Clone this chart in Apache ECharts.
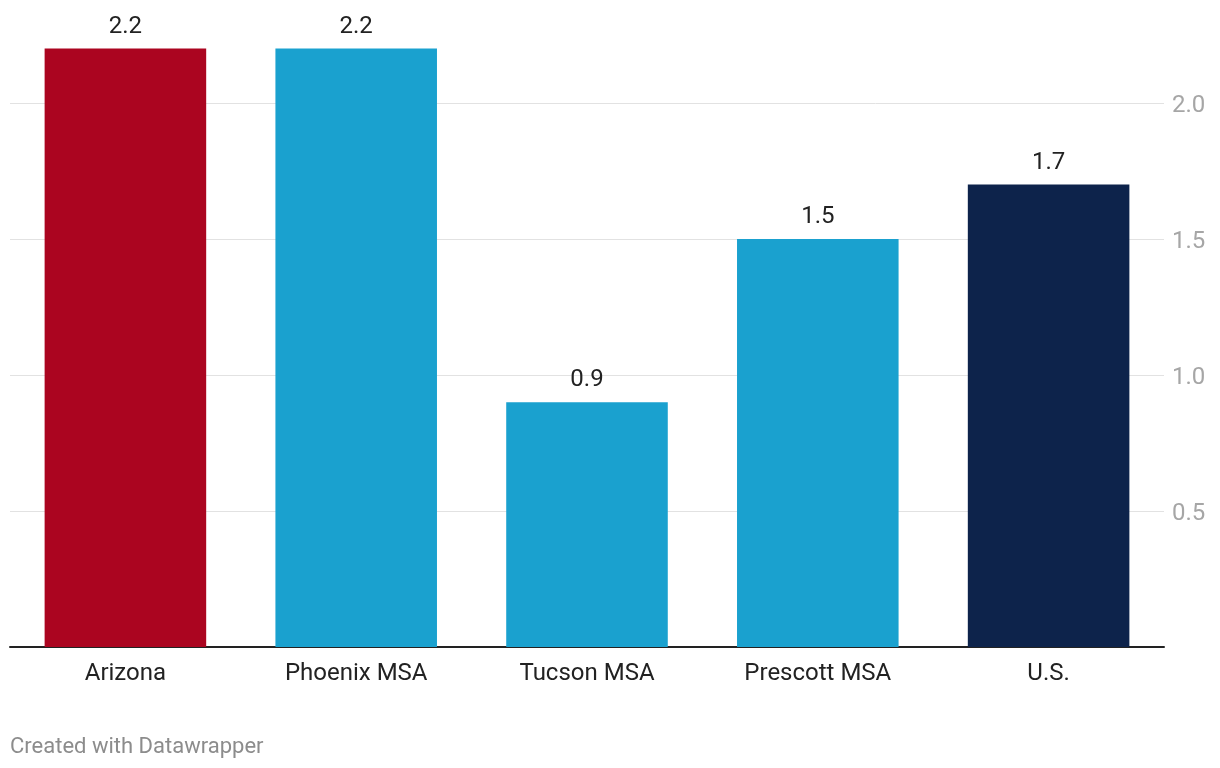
<!DOCTYPE html>
<html>
<head>
<meta charset="utf-8">
<script src="https://cdn.jsdelivr.net/npm/echarts@6/dist/echarts.min.js"></script>
<style>
html,body{margin:0;padding:0;background:#fff;}
#chart{width:1220px;height:768px;}
</style>
</head>
<body>
<div id="chart"></div>
<script>
const categories = ['Arizona', 'Phoenix MSA', 'Tucson MSA', 'Prescott MSA', 'U.S.'];
const values = [2.2, 2.2, 0.9, 1.5, 1.7];
const barColors = ['#ab0520', '#1aa1cf', '#1aa1cf', '#1aa1cf', '#0d234b'];
const yTicks = [0.5, 1.0, 1.5, 2.0];

const chart = echarts.init(document.getElementById('chart'), null, {renderer: 'canvas'});
const font = 'Roboto, "Noto Sans", sans-serif';
chart.setOption({
  animation: false,
  backgroundColor: '#fff',
  grid: {left: 10, right: 56, top: -33, bottom: 121, outerBoundsMode: 'none', containLabel: false},
  xAxis: {
    type: 'category',
    data: categories,
    axisLine: {show: true, lineStyle: {color: '#222', width: 2}},
    axisTick: {show: false},
    axisLabel: {color: '#222', fontSize: 24, fontFamily: font, margin: 15}
  },
  yAxis: {
    type: 'value',
    position: 'right',
    min: 0, max: 2.5, interval: 0.5,
    axisLine: {show: false},
    axisTick: {show: false},
    splitLine: {show: true, lineStyle: {color: '#e2e2e2', width: 1}},
    axisLabel: {
      color: '#a6a6a6', fontSize: 24, fontFamily: font, margin: 8, align: 'left',
      formatter: v => yTicks.some(t => Math.abs(t - v) < 1e-9) ? '{a|' + v.toFixed(1) + '}' : '',
      rich: {a: {color: '#a6a6a6', fontSize: 24, fontFamily: font, padding: [5, 0, 0, 0]}}
    }
  },
  series: [{
    type: 'bar',
    data: values.map((v, i) => ({value: v, itemStyle: {color: barColors[i]}})),
    barCategoryGap: '30%',
    label: {show: true, position: 'top', distance: 10, color: '#222', fontSize: 24, fontFamily: font,
      formatter: p => p.value.toFixed(1)}
  }],
  graphic: [{
    type: 'text', left: 10, top: 736,
    style: {text: 'Created with Datawrapper', fill: '#8c8c8c', fontSize: 22, fontFamily: font}
  }]
});
</script>
</body>
</html>
